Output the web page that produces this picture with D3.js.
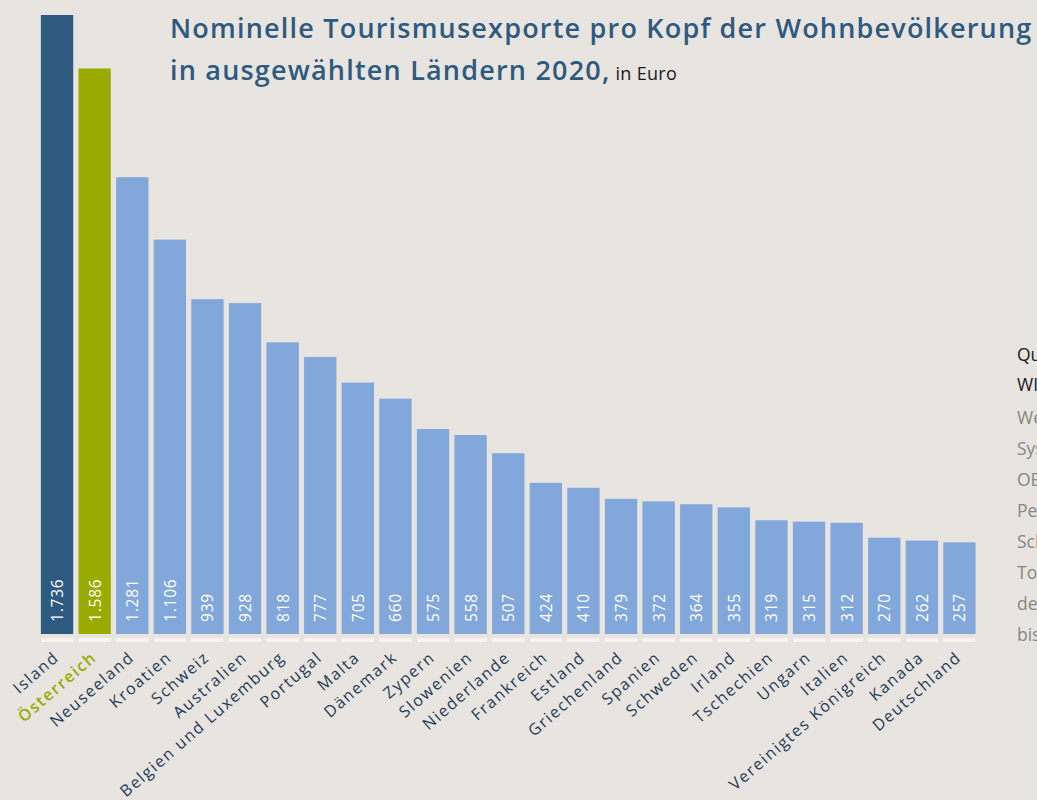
<!DOCTYPE html>
<html>
<head>
<meta charset="utf-8">
<script src="https://cdn.jsdelivr.net/npm/d3@7"></script>
<style>
  html, body { margin: 0; padding: 0; background: #e8e4e0; overflow: hidden; }
  svg { display: block; font-family: "Open Sans", "Noto Sans", sans-serif; }
</style>
</head>
<body>
<svg id="chart"></svg>
<script>
const WIDTH = 1037;
const HEIGHT = 800;

// data
const countries = ["Island", "Österreich", "Neuseeland", "Kroatien", "Schweiz", "Australien",
  "Belgien und Luxemburg", "Portugal", "Malta", "Dänemark", "Zypern", "Slowenien",
  "Niederlande", "Frankreich", "Estland", "Griechenland", "Spanien", "Schweden", "Irland",
  "Tschechien", "Ungarn", "Italien", "Vereinigtes Königreich", "Kanada", "Deutschland"];
const values = [1736, 1586, 1281, 1106, 939, 928, 818, 777, 705, 660, 575, 558, 507, 424,
  410, 379, 372, 364, 355, 319, 315, 312, 270, 262, 257];

const sourceLines = ["Quelle:", "WIFO-Berechnungen.", "Werte laut Tourismus-Satelliten-",
  "System (TSA) bzw.", "OECD, Eurostat,", "Persönliche Reiseverkehrs-", "Schätzungen für",
  "Tourismusexporte auf Basis", "der Reiseverkehrsbilanz,", "bis 2020."];

const NAVY = "#2f5a80";
const GREEN = "#9aab00";
const BLUE = "#82a8db";
const LABEL = "#1f3b58";

function barColor(name){
    switch(name){
        case "Island": return NAVY;
        case "Österreich": return GREEN;
        default: return BLUE;
    }
}

const svg = d3.select("#chart").attr("width", WIDTH).attr("height", HEIGHT);

const x = d3.scaleBand()
    .domain(countries)
    .range([39, 977.5])
    .paddingInner(0.14)
    .paddingOuter(0.05);

const y = d3.scaleLinear()
    .domain([0, 1736])
    .range([634, 15]);

const data = countries.map((c, i) => ({name: c, value: values[i]}));

// bars
svg.append("g").selectAll("rect")
    .data(data)
    .enter()
    .append("rect")
    .attr("x", d => x(d.name))
    .attr("y", d => y(d.value))
    .attr("width", x.bandwidth())
    .attr("height", d => y(0) - y(d.value))
    .attr("fill", d => barColor(d.name));

// light strip under each bar
svg.append("g").selectAll("rect")
    .data(data)
    .enter()
    .append("rect")
    .attr("x", d => x(d.name))
    .attr("y", y(0) + 4)
    .attr("width", x.bandwidth())
    .attr("height", 4)
    .attr("fill", "#f6f3f0");

// values inside bars, rotated
svg.append("g").selectAll("text")
    .data(data)
    .enter()
    .append("text")
    .attr("transform", d => "translate(" + (x(d.name) + x.bandwidth() / 2 + 6) + "," + (y(0) - 12) + ") rotate(-90)")
    .attr("fill", "#ffffff")
    .attr("font-size", 15.5)
    .attr("letter-spacing", 0.8)
    .text(d => d3.format(",")(d.value).replace(/,/g, "."));

// category labels
svg.append("g").selectAll("text")
    .data(data)
    .enter()
    .append("text")
    .attr("transform", d => "translate(" + (x(d.name) + x.bandwidth() / 2 + 3) + "," + (y(0) + 25) + ") rotate(-41)")
    .attr("text-anchor", "end")
    .attr("fill", d => d.name == "Österreich" ? GREEN : LABEL)
    .attr("font-size", 16)
    .attr("font-weight", d => d.name == "Österreich" ? 600 : "normal")
    .attr("letter-spacing", 1.6)
    .text(d => d.name);

// title
svg.append("text")
    .attr("x", 170)
    .attr("y", 38)
    .attr("fill", NAVY)
    .attr("font-size", 27)
    .attr("font-weight", 600)
    .attr("letter-spacing", 1.2)
    .text("Nominelle Tourismusexporte pro Kopf der Wohnbevölkerung");
const line2 = svg.append("text")
    .attr("x", 170)
    .attr("y", 80)
    .attr("font-size", 27)
    .attr("letter-spacing", 1.2);
line2.append("tspan")
    .attr("fill", NAVY)
    .attr("font-weight", 600)
    .text("in ausgewählten Ländern 2020,");
line2.append("tspan")
    .attr("fill", "#1a1a1a")
    .attr("font-size", 18)
    .attr("letter-spacing", 0.3)
    .text(" in Euro");

// source notes, cut off at the right edge as in the original
svg.append("g").selectAll("text")
    .data(sourceLines)
    .enter()
    .append("text")
    .attr("x", 1017)
    .attr("y", (d, i) => i < 2 ? 361 + i * 30 : 424 + (i - 2) * 31)
    .attr("font-size", 17.5)
    .attr("fill", (d, i) => i < 2 ? "#1a1a1a" : "#8a8683")
    .text(d => d);
</script>
</body>
</html>
